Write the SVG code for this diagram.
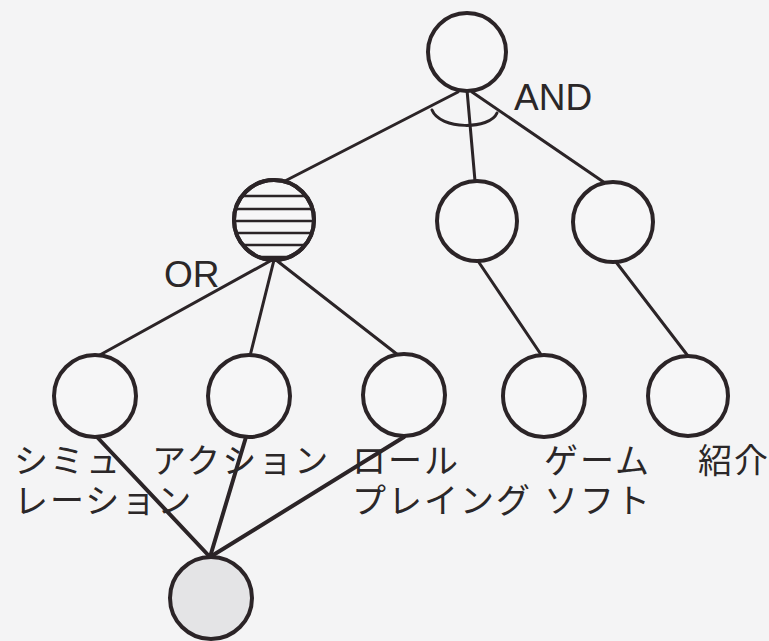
<svg xmlns="http://www.w3.org/2000/svg" width="769" height="641" viewBox="0 0 769 641">
<style>
.bg{fill:#f4f4f5}
.node{fill:#f6f6f7;stroke:#2b2427;stroke-width:4}
.edge{stroke:#2b2427;stroke-width:3;fill:none;stroke-linecap:round}
.thick{stroke-width:4}
.hatch{stroke:#2b2427;stroke-width:2.5}
.lbl{font-family:"Liberation Sans",Arial,sans-serif;font-size:37px;fill:#2b2728}
.jp{font-family:"Noto Sans CJK JP","Noto Sans",sans-serif;font-size:34px;letter-spacing:2px;fill:#2b2728}
</style>
<defs>
<clipPath id="hclip"><circle cx="274" cy="220" r="39"/></clipPath>
</defs>
<rect class="bg" x="0" y="0" width="769" height="641"/>
<g id="connectors">
<line class="edge" x1="458" y1="92" x2="283" y2="182"/>
<line class="edge" x1="467" y1="90" x2="475" y2="181"/>
<line class="edge" x1="472" y1="92" x2="605" y2="183"/>
<path class="edge" d="M432,110 C440,130 490,130 497,113"/>
<line class="edge" x1="272" y1="260" x2="98" y2="356"/>
<line class="edge" x1="274" y1="260" x2="250" y2="356"/>
<line class="edge" x1="276" y1="260" x2="398" y2="355"/>
<line class="edge" x1="478" y1="261" x2="542" y2="356"/>
<line class="edge" x1="616" y1="262" x2="688" y2="356"/>
<line class="edge thick" x1="97" y1="437" x2="210" y2="557"/>
<line class="edge thick" x1="246" y1="437" x2="210" y2="557"/>
<line class="edge thick" x1="404" y1="437" x2="210" y2="557"/>
</g>
<g id="root"><circle class="node" cx="467" cy="52" r="39"/></g>
<g id="and-label"><text class="lbl" x="514" y="110">AND</text></g>
<g id="or-node">
<circle class="node" cx="274" cy="220" r="40"/>
<g clip-path="url(#hclip)">
<line class="hatch" x1="230" y1="196" x2="318" y2="196"/>
<line class="hatch" x1="230" y1="209" x2="318" y2="209"/>
<line class="hatch" x1="230" y1="221" x2="318" y2="221"/>
<line class="hatch" x1="230" y1="233" x2="318" y2="233"/>
<line class="hatch" x1="230" y1="245" x2="318" y2="245"/>
<line class="hatch" x1="230" y1="257" x2="318" y2="257"/>
</g>
<circle cx="274" cy="220" r="40" fill="none" stroke="#2b2427" stroke-width="4"/>
</g>
<g id="or-label"><text class="lbl" x="164" y="287">OR</text></g>
<g id="mid"><circle class="node" cx="477" cy="221" r="40"/></g>
<g id="right"><circle class="node" cx="613" cy="222" r="40"/></g>
<g id="simulation">
<circle class="node" cx="95" cy="396" r="41"/>
<text class="jp" x="14" y="473">シミュ</text>
<text class="jp" x="14" y="513">レーション</text>
</g>
<g id="action">
<circle class="node" cx="249" cy="396" r="41"/>
<text class="jp" x="152" y="473">アクション</text>
</g>
<g id="roleplaying">
<circle class="node" cx="404" cy="395" r="41"/>
<text class="jp" x="352" y="473">ロール</text>
<text class="jp" x="352" y="513">プレイング</text>
</g>
<g id="gamesoft">
<circle class="node" cx="544" cy="396" r="41"/>
<text class="jp" x="544" y="473">ゲーム</text>
<text class="jp" x="544" y="513">ソフト</text>
</g>
<g id="intro">
<circle class="node" cx="688" cy="396" r="40"/>
<text class="jp" x="698" y="473">紹介</text>
</g>
<g id="bottom"><circle cx="211" cy="598" r="41" fill="#e4e4e6" stroke="#2b2427" stroke-width="4"/></g>
</svg>
